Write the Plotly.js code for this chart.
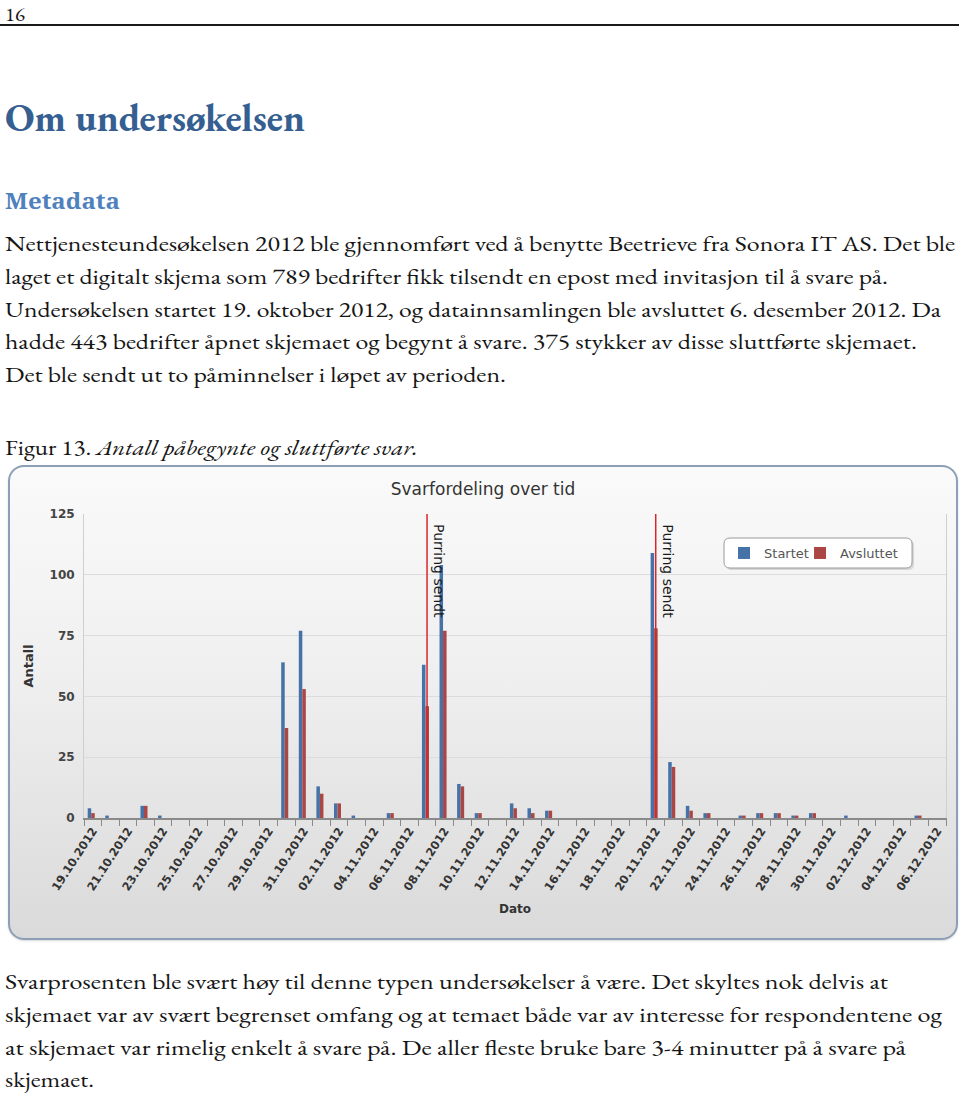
<!DOCTYPE html>
<html>
<head>
<meta charset="utf-8">
<script src="https://cdn.plot.ly/plotly-3.0.1.min.js"></script>
<style>
html, body { margin:0; padding:0; background:#ffffff; width:960px; height:1096px; overflow:hidden; }
.ln { position:absolute; left:5px; white-space:nowrap; display:inline-block; line-height:normal;
      font-family:"EB Garamond", "Liberation Serif", serif; font-size:22px; color:#161616; transform-origin:0 0; }
.pg { font-size:20px; }
.h1 { font-weight:bold; font-size:38px; color:#365F91; }
.h2 { font-family:"Noto Serif", "DejaVu Serif", serif; font-weight:bold; font-size:21px; color:#4F81BD; }
#rule { position:absolute; left:0; top:24px; width:959px; height:1.5px; background:#1a1a1a; }
#chartbg { position:absolute; left:8px; top:465px; width:950px; height:475px; box-sizing:border-box;
           border:2px solid #8d9fb6; border-radius:16px;
           background:linear-gradient(to bottom, #fafafa 0%, #efefef 45%, #dadada 100%);
           box-shadow:0 1px 2px rgba(0,0,0,0.15); }
#chart { position:absolute; left:8px; top:465px; width:950px; height:475px; }
</style>
</head>
<body>
<div class="ln pg" data-b="19" data-w="20" data-min="1">16</div>
<div id="rule"></div>
<div class="ln h1" data-b="131" data-w="300">Om undersøkelsen</div>
<div class="ln h2" data-b="209" data-w="115">Metadata</div>
<div class="ln" data-b="251" data-w="950">Nettjenesteundesøkelsen 2012 ble gjennomført ved å benytte Beetrieve fra Sonora IT AS. Det ble</div>
<div class="ln" data-b="284" data-w="883">laget et digitalt skjema som 789 bedrifter fikk tilsendt en epost med invitasjon til å svare på.</div>
<div class="ln" data-b="317" data-w="936">Undersøkelsen startet 19. oktober 2012, og datainnsamlingen ble avsluttet 6. desember 2012. Da</div>
<div class="ln" data-b="349" data-w="912">hadde 443 bedrifter åpnet skjemaet og begynt å svare. 375 stykker av disse sluttførte skjemaet.</div>
<div class="ln" data-b="382" data-w="501">Det ble sendt ut to påminnelser i løpet av perioden.</div>
<div class="ln" data-b="455" data-w="413">Figur 13. <i>Antall påbegynte og sluttførte svar.</i></div>

<div id="chartbg"></div>
<div id="chart"></div>

<div class="ln" data-b="989" data-w="883">Svarprosenten ble svært høy til denne typen undersøkelser å være. Det skyltes nok delvis at</div>
<div class="ln" data-b="1022" data-w="937">skjemaet var av svært begrenset omfang og at temaet både var av interesse for respondentene og</div>
<div class="ln" data-b="1055" data-w="901">at skjemaet var rimelig enkelt å svare på. De aller fleste bruke bare 3-4 minutter på å svare på</div>
<div class="ln" data-b="1087" data-w="89">skjemaet.</div>

<script>
// ---------- chart data ----------
const categories = [
  "19.10.2012","20.10.2012","21.10.2012","22.10.2012","23.10.2012","24.10.2012","25.10.2012",
  "26.10.2012","27.10.2012","28.10.2012","29.10.2012","30.10.2012","31.10.2012",
  "01.11.2012","02.11.2012","03.11.2012","04.11.2012","05.11.2012","06.11.2012","07.11.2012",
  "08.11.2012","09.11.2012","10.11.2012","11.11.2012","12.11.2012","13.11.2012","14.11.2012",
  "15.11.2012","16.11.2012","17.11.2012","18.11.2012","19.11.2012","20.11.2012","21.11.2012",
  "22.11.2012","23.11.2012","24.11.2012","25.11.2012","26.11.2012","27.11.2012","28.11.2012",
  "29.11.2012","30.11.2012","01.12.2012","02.12.2012","03.12.2012","04.12.2012","05.12.2012",
  "06.12.2012"
];
const startet = [
  4,1,0,5,1,0,0, 0,0,0,0,64,77,
  13,6,1,0,2,0,63,
  104,14,2,0,6,4,3,
  0,0,0,0,0,109,23,
  5,2,0,1,2,2,1,
  2,0,1,0,0,0,1,
  0
];
const avsluttet = [
  2,0,0,5,0,0,0, 0,0,0,0,37,53,
  10,6,0,0,2,0,46,
  77,13,2,0,4,2,3,
  0,0,0,0,0,78,21,
  3,2,0,1,2,2,1,
  2,0,0,0,0,0,1,
  0
];
const seriesNames = ["Startet", "Avsluttet"];
const reminderDates = ["07.11.2012", "20.11.2012"];
const reminderLabel = "Purring sendt";
const yTickVals = [0, 25, 50, 75, 100, 125];
const tickLabels = categories.map((c, i) => (i % 2 === 0 ? c : ""));

const traces = [
  { type:"bar", name:seriesNames[0], x:categories, y:startet, offset:-0.29, width:0.2, legendwidth:31,
    marker:{ color:"#4572A7", line:{ width:0 } }, hoverinfo:"x+y+name" },
  { type:"bar", name:seriesNames[1], x:categories, y:avsluttet, offset:-0.09, width:0.2,
    marker:{ color:"#AA4643", line:{ width:0 } }, hoverinfo:"x+y+name" }
];

const legX = 0.7425, legY = 0.921;
const shapes = [];
const boxPath = "M6,0 H182 Q188,0 188,-6 V-24 Q188,-30 182,-30 H6 Q0,-30 0,-24 V-6 Q0,0 6,0 Z";
shapes.push({ type:"path", xref:"paper", yref:"paper", xsizemode:"pixel", ysizemode:"pixel",
  xanchor:legX + 2/862, yanchor:legY - 2/304, path:boxPath, fillcolor:"rgba(0,0,0,0.12)", line:{ width:0 }, layer:"above" });
shapes.push({ type:"path", xref:"paper", yref:"paper", xsizemode:"pixel", ysizemode:"pixel",
  xanchor:legX, yanchor:legY, path:boxPath, fillcolor:"#ffffff", line:{ color:"#9a9a9a", width:1 }, layer:"above" });
reminderDates.forEach(d => shapes.push({ type:"line", xref:"x", yref:"paper", x0:d, x1:d, y0:0, y1:1,
  line:{ color:"#d9262b", width:1.5 }, layer:"above" }));

const annotations = reminderDates.map(d => ({
  x:d, xref:"x", y:1, yref:"paper", text:reminderLabel, textangle:90, showarrow:false,
  xanchor:"left", yanchor:"top", xshift:2, yshift:-8, font:{ family:"DejaVu Sans", size:14, color:"#1a1a1a" }
}));

const layout = {
  width:950, height:475,
  margin:{ l:76, r:12, t:49, b:122, pad:0 },
  paper_bgcolor:"rgba(0,0,0,0)", plot_bgcolor:"rgba(0,0,0,0)",
  font:{ family:"DejaVu Sans", color:"#333" },
  title:{ text:"Svarfordeling over tid", font:{ family:"DejaVu Sans", size:17, color:"#333" },
          x:0.5, xref:"container", xanchor:"center", y:1 - 24/475, yref:"container", yanchor:"middle" },
  barmode:"overlay",
  showlegend:true,
  legend:{ orientation:"h", x:legX, y:legY, xanchor:"left", yanchor:"top", bgcolor:"rgba(0,0,0,0)",
           borderwidth:0, font:{ family:"DejaVu Sans", size:13, color:"#555" } },
  xaxis:{ type:"category", range:[-0.5, categories.length - 0.5], tickmode:"array", tickvals:categories,
          ticktext:tickLabels, tickson:"boundaries", ticks:"outside", ticklen:6, tickcolor:"#8a8a8a", tickwidth:1,
          showline:true, linecolor:"#8a8a8a", linewidth:1.5, showgrid:false, zeroline:false, tickangle:-57,
          tickfont:{ family:"DejaVu Sans", size:11.5, weight:"bold", color:"#333" },
          title:{ text:"Dato", font:{ family:"DejaVu Sans", size:12, weight:"bold", color:"#333" }, standoff:12 },
          fixedrange:true },
  yaxis:{ range:[0, 125], tickmode:"array", tickvals:yTickVals, ticks:"", showgrid:true, gridcolor:"#dcdcdc",
          gridwidth:1, showline:true, linecolor:"#cfcfcf", mirror:true, zeroline:false, ticklabelstandoff:6,
          tickfont:{ family:"DejaVu Sans", size:12, weight:"bold", color:"#444" },
          title:{ text:"Antall", font:{ family:"DejaVu Sans", size:13, weight:"bold", color:"#333" }, standoff:12 },
          fixedrange:true },
  shapes:shapes,
  annotations:annotations
};

Plotly.newPlot("chart", traces, layout, { displayModeBar:false, staticPlot:true });

// ---------- page text placement (baseline + width fitting) ----------
function placeText() {
  document.querySelectorAll(".ln").forEach(el => {
    el.style.transform = "none";
    let probe = el.querySelector(".probe");
    if (!probe) {
      probe = document.createElement("span");
      probe.className = "probe";
      probe.style.cssText = "display:inline-block;width:0;height:0;vertical-align:baseline;";
      el.appendChild(probe);
    }
    el.style.top = "0px";
    const baseOff = probe.getBoundingClientRect().top - el.getBoundingClientRect().top;
    const minTop = el.dataset.min ? parseFloat(el.dataset.min) : 0;
    el.style.top = Math.max(minTop, parseFloat(el.dataset.b) - baseOff) + "px";
    const w = el.getBoundingClientRect().width;
    const target = parseFloat(el.dataset.w);
    if (w > 0) el.style.transform = "scaleX(" + (target / w).toFixed(4) + ")";
  });
}
placeText();
if (document.fonts && document.fonts.ready) document.fonts.ready.then(placeText);
</script>
</body>
</html>
